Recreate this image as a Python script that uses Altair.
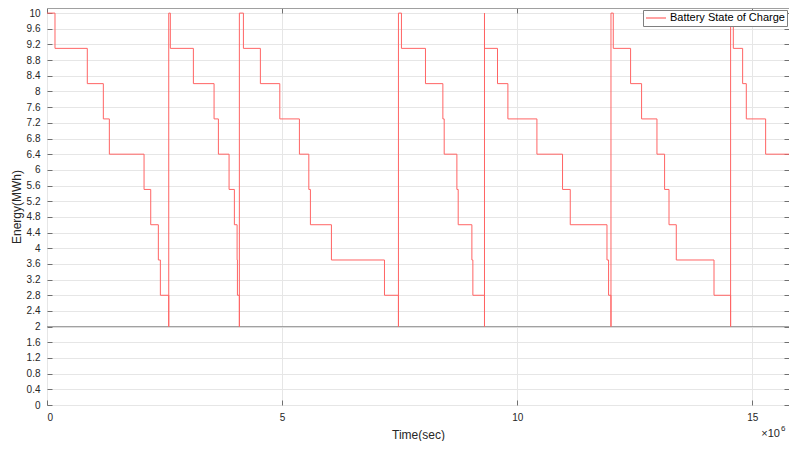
import altair as alt
import pandas as pd

# Time axis values in units of 1e6 s, energy in MWh (step-after trace)
time_1e6 = [0, 0.170, 0.857, 1.198, 1.326, 2.064, 2.206, 2.368, 2.411, 2.589,
            2.589, 2.623, 3.113, 3.553, 3.645, 3.872, 3.985, 4.043, 4.050, 4.091,
            4.091, 4.177, 4.538, 4.951, 5.368, 5.568, 5.602, 6.049, 7.177, 7.474,
            7.474, 7.538, 8.049, 8.419, 8.447, 8.717, 8.745, 9.036, 9.057, 9.304,
            9.304, 9.304, 9.581, 9.802, 10.419, 10.964, 11.128, 11.909, 11.943, 11.994,
            11.994, 12.043, 12.411, 12.645, 12.972, 13.134, 13.228, 13.383, 14.185, 14.538,
            14.538, 14.596, 14.794, 14.872, 15.283, 15.936]
energy = [10, 9.1, 8.2, 7.3, 6.4, 5.5, 4.6, 3.7, 2.8, 2.0,
          10, 9.1, 8.2, 7.3, 6.4, 5.5, 4.6, 3.7, 2.8, 2.0,
          10, 9.1, 8.2, 7.3, 6.4, 5.5, 4.6, 3.7, 2.8, 2.0,
          10, 9.1, 8.2, 7.3, 6.4, 5.5, 4.6, 3.7, 2.8, 2.0,
          10, 9.1, 8.2, 7.3, 6.4, 5.5, 4.6, 3.7, 2.8, 2.0,
          10, 9.1, 8.2, 7.3, 6.4, 5.5, 4.6, 3.7, 2.8, 2.0,
          10, 9.1, 8.2, 7.3, 6.4, 6.4]
series_name = "Battery State of Charge"
min_level = [2]
x_ticks = [0, 5, 10, 15]
y_ticks = [0, 0.4, 0.8, 1.2, 1.6, 2, 2.4, 2.8, 3.2, 3.6, 4, 4.4, 4.8, 5.2, 5.6,
           6, 6.4, 6.8, 7.2, 7.6, 8, 8.4, 8.8, 9.2, 9.6, 10]
x_domain = [0, 15.78]
y_domain = [0, 10.13]
exp_base = ["\u00d710"]
exp_power = ["6"]

FONT = "Liberation Sans"
TXT = "#262626"

df = pd.DataFrame({"t": time_1e6, "e": energy, "i": list(range(len(energy))),
                   "series": series_name})

xs = alt.Scale(domain=x_domain, nice=False, zero=False)
ys = alt.Scale(domain=y_domain, nice=False, zero=False)

rule = alt.Chart(pd.DataFrame({"y": min_level})).mark_rule(
    color="#969696", strokeWidth=1
).encode(y=alt.Y("y:Q", scale=ys, axis=None))

line = alt.Chart(df).mark_line(
    interpolate="step-after", strokeWidth=1, clip=True
).encode(
    x=alt.X("t:Q", scale=xs, axis=alt.Axis(
        title="Time(sec)", values=x_ticks, format="~g", orient="bottom",
        offset=-5, tickSize=5, domain=False, labelPadding=7, titlePadding=7,
        grid=True)),
    y=alt.Y("e:Q", scale=ys, axis=alt.Axis(
        title="Energy(MWh)", values=y_ticks, format="~g", orient="left",
        offset=-5, tickSize=5, domain=False, labelPadding=7, titlePadding=3,
        grid=True)),
    color=alt.Color("series:N", scale=alt.Scale(range=["#ff6464"]),
                    legend=alt.Legend(
                        title=None, orient="top-right", offset=2,
                        symbolType="stroke", symbolSize=400, symbolStrokeWidth=1.2,
                        symbolStrokeColor="#ff6464",
                        clipHeight=12,
                        labelFontSize=11, labelColor="#000000", labelFont=FONT,
                        strokeColor="#7f7f7f", fillColor="white", padding=2,
                        labelOffset=3, cornerRadius=0)),
    order="i:Q",
)

frame = alt.Chart(df).mark_point(opacity=0).encode(
    x=alt.X("t:Q", scale=xs, axis=alt.Axis(
        orient="top", values=x_ticks, labels=False, title=None, offset=-5,
        tickSize=5, domain=False, grid=False)),
    y=alt.Y("e:Q", scale=ys, axis=alt.Axis(
        orient="right", values=y_ticks, labels=False, title=None, offset=-5,
        tickSize=5, domain=False, grid=False)),
)

exp1 = alt.Chart(pd.DataFrame({"s": exp_base})).mark_text(
    align="right", baseline="middle", font=FONT, fontSize=11, color=TXT
).encode(text="s:N", x=alt.value(733), y=alt.value(426))

exp2 = alt.Chart(pd.DataFrame({"s": exp_power})).mark_text(
    align="left", baseline="middle", font=FONT, fontSize=8, color=TXT
).encode(text="s:N", x=alt.value(734), y=alt.value(421))

chart = alt.layer(rule, line, frame, exp1, exp2).resolve_scale(
    x="independent", y="independent"
).properties(
    width=742, height=397,
    padding={"left": 39, "top": 0, "right": 0, "bottom": 36},
    autosize=alt.AutoSizeParams(type="none"),
).configure_view(
    stroke="#a0a0a0", strokeWidth=1
).configure_axis(
    labelFont=FONT, titleFont=FONT, labelColor=TXT, titleColor=TXT,
    labelFontSize=10, titleFontSize=12, titleFontWeight="normal",
    gridColor="#e6e6e6", gridOpacity=1, tickColor="#707070"
)

chart.save("out.html", embed_options={"renderer": "svg", "actions": False})
